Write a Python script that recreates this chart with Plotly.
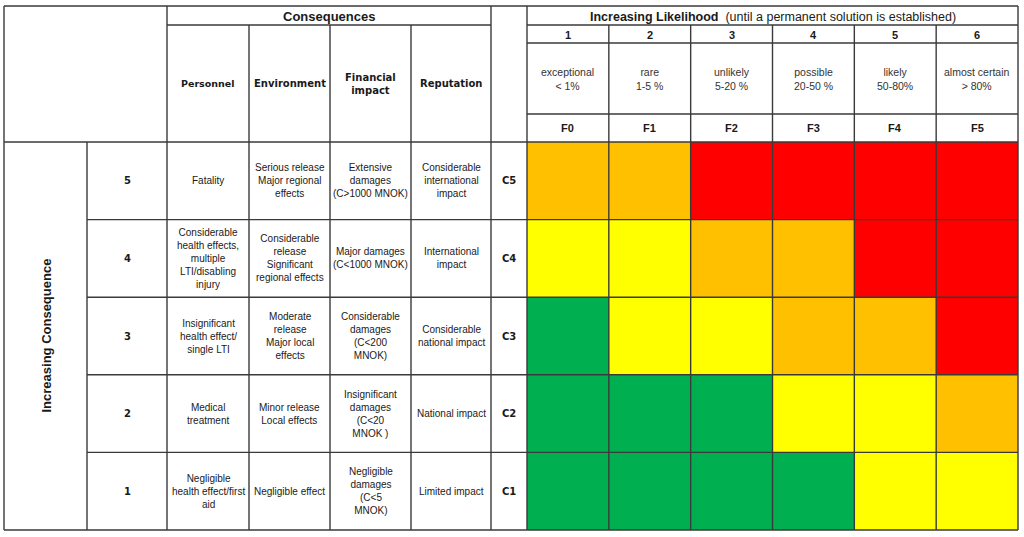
import plotly.graph_objects as go

# ---------------- data ----------------
likelihood_codes = ["F0", "F1", "F2", "F3", "F4", "F5"]
likelihood_nums = ["1", "2", "3", "4", "5", "6"]
likelihood_desc = ["exceptional<br>&lt; 1%", "rare<br>1-5 %", "unlikely<br>5-20 %",
                   "possible<br>20-50 %", "likely<br>50-80%", "almost certain<br>&gt; 80%"]

consequence_codes = ["C5", "C4", "C3", "C2", "C1"]   # top to bottom
consequence_nums = ["5", "4", "3", "2", "1"]
personnel = ["Fatality",
             "Considerable<br>health effects,<br>multiple<br>LTI/disabling<br>injury",
             "Insignificant<br>health effect/<br>single LTI",
             "Medical<br>treatment",
             "Negligible<br>health effect/first<br>aid"]
environment = ["Serious release<br>Major regional<br>effects",
               "Considerable<br>release<br>Significant<br>regional effects",
               "Moderate<br>release<br>Major local<br>effects",
               "Minor release<br>Local effects",
               "Negligible effect"]
financial = ["Extensive<br>damages<br>(C&gt;1000 MNOK)",
             "Major damages<br>(C&lt;1000 MNOK)",
             "Considerable<br>damages<br>(C&lt;200<br>MNOK)",
             "Insignificant<br>damages<br>(C&lt;20<br>MNOK )",
             "Negligible<br>damages<br>(C&lt;5<br>MNOK)"]
reputation = ["Considerable<br>international<br>impact",
              "International<br>impact",
              "Considerable<br>national impact",
              "National impact",
              "Limited impact"]
consequence_headers = ["Personnel", "Environment", "Financial<br>impact", "Reputation"]

# risk level per cell: 0 green, 1 yellow, 2 orange, 3 red  (rows C5..C1, cols F0..F5)
risk_levels = [
    [2, 2, 3, 3, 3, 3],
    [1, 1, 2, 2, 3, 3],
    [0, 1, 1, 2, 2, 3],
    [0, 0, 0, 1, 1, 2],
    [0, 0, 0, 0, 1, 1],
]
risk_colors = ["#00B050", "#FFFF00", "#FFC000", "#FF0000"]

# ---------------- layout constants (pixels) ----------------
W, H = 1024, 537
X_LEFT, X_NUM, X_PERS, X_ENV, X_FIN, X_REP, X_C, X_MAT, X_RIGHT = 4, 87, 167, 249, 330, 411, 491, 527, 1018
Y_TOP, Y_H1, Y_H2, Y_H3, Y_BODY, Y_BOT = 6, 25, 43, 114, 142, 530

LINE = dict(color="#3a3a3a", width=1.4)
ARIAL = "Liberation Sans, Arial, sans-serif"
VERD = "DejaVu Sans, Verdana, sans-serif"
TXT = "#1a1a1a"

fig = go.Figure()

# risk matrix heatmap on its own axes
n_rows = len(consequence_codes)
n_cols = len(likelihood_codes)
z = [list(r) for r in reversed(risk_levels)]  # bottom-to-top
ycats = list(reversed(consequence_codes))
nmax = len(risk_colors) - 1
colorscale = [[i / nmax, c] for i, c in enumerate(risk_colors)]
fig.add_trace(go.Heatmap(
    x=likelihood_codes, y=ycats, z=z, xaxis="x2", yaxis="y2",
    colorscale=colorscale, zmin=0, zmax=nmax, showscale=False, hoverinfo="skip"))

# invisible trace to anchor main pixel axes
fig.add_trace(go.Scatter(x=[0, W], y=[0, H], mode="markers", marker=dict(opacity=0),
                         hoverinfo="skip", showlegend=False))

shapes = []
def hline(y, x0, x1, xref="x", yref="y"):
    shapes.append(dict(type="line", x0=x0, x1=x1, y0=y, y1=y, xref=xref, yref=yref, line=LINE))
def vline(x, y0, y1, xref="x", yref="y"):
    shapes.append(dict(type="line", x0=x, x1=x, y0=y0, y1=y1, xref=xref, yref=yref, line=LINE))

# horizontal lines
hline(Y_TOP, X_LEFT, X_RIGHT)
hline(Y_H1, X_PERS, X_C)
hline(Y_H1, X_MAT, X_RIGHT)
hline(Y_H2, X_MAT, X_RIGHT)
hline(Y_H3, X_MAT, X_RIGHT)
hline(Y_BODY, X_LEFT, X_RIGHT)
for i in range(n_rows - 1):
    hline(i + 0.5, X_NUM, X_RIGHT, yref="y2")
hline(Y_BOT, X_LEFT, X_RIGHT)

# vertical lines
vline(X_LEFT, Y_TOP, Y_BOT)
vline(X_NUM, Y_BODY, Y_BOT)
vline(X_PERS, Y_TOP, Y_BOT)
for xv in (X_ENV, X_FIN, X_REP):
    vline(xv, Y_H1, Y_BOT)
vline(X_C, Y_TOP, Y_BOT)
vline(X_MAT, Y_TOP, Y_BOT)
for j in range(n_cols - 1):
    shapes.append(dict(type="line", x0=j + 0.5, x1=j + 0.5, y0=Y_H1, y1=Y_BOT,
                       xref="x2", yref="y", line=LINE))
vline(X_RIGHT, Y_TOP, Y_BOT)

ann = []
def text(x, y, s, size=10, family=ARIAL, xref="x", yref="y", angle=0, color=TXT):
    ann.append(dict(x=x, y=y, text=s, xref=xref, yref=yref, showarrow=False,
                    font=dict(size=size, family=family, color=color),
                    align="center", xanchor="center", yanchor="middle", textangle=angle))

# headers
text((X_PERS + X_C) / 2, (Y_TOP + Y_H1) / 2 + 1, "<b>Consequences</b>", size=13)
text((X_MAT + X_RIGHT) / 2, (Y_TOP + Y_H1) / 2 + 1,
     "<b>Increasing Likelihood</b>  (until a permanent solution is established)", size=12.5)
cons_centers = [(X_PERS + X_ENV) / 2, (X_ENV + X_FIN) / 2, (X_FIN + X_REP) / 2, (X_REP + X_C) / 2]
ymid_head = (Y_H1 + Y_BODY) / 2
for k, (cx, h) in enumerate(zip(cons_centers, consequence_headers)):
    text(cx, ymid_head, "<b>%s</b>" % h, size=9.5 if k == 0 else 10, family=VERD)
for j in range(n_cols):
    text(j, (Y_H1 + Y_H2) / 2 + 1, "<b>%s</b>" % likelihood_nums[j], size=11, xref="x2")
    text(j, (Y_H2 + Y_H3) / 2, likelihood_desc[j], size=10.5, xref="x2", color="#333")
    text(j, (Y_H3 + Y_BODY) / 2, "<b>%s</b>" % likelihood_codes[j], size=11, xref="x2")

text((X_LEFT + X_NUM) / 2, (Y_BODY + Y_BOT) / 2, "<b>Increasing Consequence</b>",
     size=13, angle=-90)

for i in range(n_rows):
    yi = n_rows - 1 - i
    text((X_NUM + X_PERS) / 2, yi, "<b>%s</b>" % consequence_nums[i], size=10, family=VERD, yref="y2")
    text(cons_centers[0], yi, personnel[i], yref="y2")
    text(cons_centers[1], yi, environment[i], yref="y2")
    text(cons_centers[2], yi, financial[i], yref="y2")
    text(cons_centers[3], yi, reputation[i], yref="y2")
    text((X_C + X_MAT) / 2, yi, "<b>%s</b>" % consequence_codes[i], size=10, family=VERD, yref="y2")

fig.update_layout(
    width=W, height=H, margin=dict(l=0, r=0, t=0, b=0),
    paper_bgcolor="white", plot_bgcolor="white", showlegend=False,
    xaxis=dict(range=[0, W], visible=False, domain=[0, 1], fixedrange=True),
    yaxis=dict(range=[H, 0], visible=False, domain=[0, 1], fixedrange=True),
    xaxis2=dict(domain=[X_MAT / W, X_RIGHT / W], anchor="y2", visible=False,
                range=[-0.5, n_cols - 0.5], fixedrange=True),
    yaxis2=dict(domain=[1 - Y_BOT / H, 1 - Y_BODY / H], anchor="x2", visible=False,
                range=[-0.5, n_rows - 0.5], fixedrange=True),
    shapes=shapes, annotations=ann,
)
fig.write_html("out.html", config={"displayModeBar": False},
               post_script="document.body.style.margin='0';document.body.style.overflow='hidden';")
